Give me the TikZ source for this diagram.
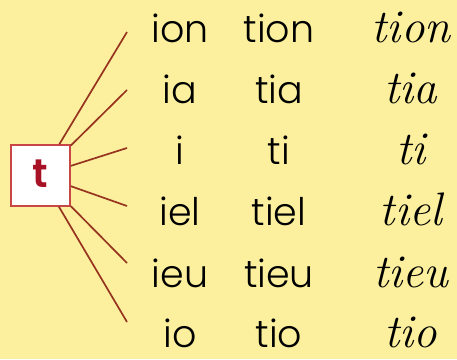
\documentclass[tikz,border=0pt]{standalone}
\usepackage{fontspec}
\usepackage{tikz}
\newfontfamily\gothic{Poppins Light}
\newfontfamily\gothicbold{Poppins SemiBold}
\definecolor{paper}{RGB}{252,240,158}
\definecolor{spoke}{RGB}{150,52,32}
\definecolor{boxred}{RGB}{200,70,70}
\definecolor{letterred}{RGB}{168,18,38}

\begin{document}
\begin{tikzpicture}[x=1pt, y=-1pt,
	every node/.style={inner sep=0pt, anchor=base},
	syl/.style={font=\gothic\fontsize{38}{38}\selectfont},
	curs/.style={font=\rmfamily\itshape\fontsize{47}{47}\selectfont},
	spokeline/.style={draw=spoke, line width=1.7pt}]
	\fill[paper] (0,0) rectangle (457,359);
	\useasboundingbox (0,0) rectangle (457,359);
	% the letter box
	\node[anchor=center, draw=boxred, fill=white, line width=1.6pt, minimum width=59pt, minimum height=61pt, text=letterred, font=\gothicbold\fontsize{40}{40}\selectfont] (tbox) at (40.5,175.5) {\raisebox{4pt}{t}};
	\coordinate (e1) at (127,32);
	\coordinate (e2) at (127,90);
	\coordinate (e3) at (127,148);
	\coordinate (e4) at (127,206);
	\coordinate (e5) at (127,263);
	\coordinate (e6) at (127,322);
	\foreach \i in {1,...,6}
		\draw[spokeline] (tbox) -- (e\i);
	% first column
	\node[syl] (a1) at (180,42) {ion};
	\node[syl] (a2) at (180,103) {ia};
	\node[syl] (a3) at (180,164) {i};
	\node[syl] (a4) at (180,225) {iel};
	\node[syl] (a5) at (180,287) {ieu};
	\node[syl] (a6) at (180,347) {io};
	% second column
	\node[syl] (b1) at (279,42) {tion};
	\node[syl] (b2) at (279,103) {tia};
	\node[syl] (b3) at (279,164) {ti};
	\node[syl] (b4) at (279,225) {tiel};
	\node[syl] (b5) at (279,287) {tieu};
	\node[syl] (b6) at (279,347) {tio};
	% cursive column
	\node[curs] (c1) at (411,42) {tion};
	\node[curs] (c2) at (411,103) {tia};
	\node[curs] (c3) at (411,164) {ti};
	\node[curs] (c4) at (411,225) {tiel};
	\node[curs] (c5) at (411,287) {tieu};
	\node[curs] (c6) at (411,347) {tio};
\end{tikzpicture}
\end{document}
